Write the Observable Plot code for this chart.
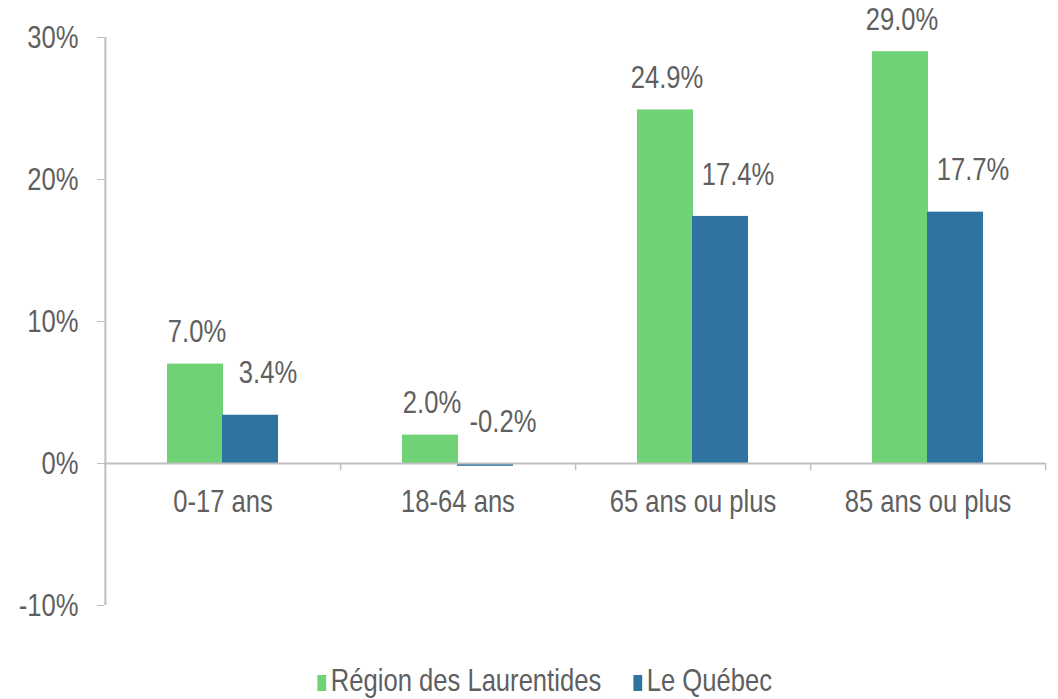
<!DOCTYPE html>
<html><head><meta charset="utf-8">
<script src="https://cdn.jsdelivr.net/npm/d3@7"></script>
<script src="https://cdn.jsdelivr.net/npm/@observablehq/plot@0.6"></script>
<style>
body{margin:0;background:#fff;font-family:"Liberation Sans",Arial,sans-serif;}
#legend{display:flex;justify-content:center;gap:40px;font-size:32px;color:#5f5f5f;margin-top:20px;padding-left:32px;transform:scaleX(0.8);transform-origin:543px 50%;line-height:40px}
#legend span.sw{display:inline-block;width:11px;height:16px;margin-right:6px;vertical-align:0px}
</style></head><body>
<div id="chart"></div>
<div id="legend"></div>
<script>
const categories = ["0-17 ans", "18-64 ans", "65 ans ou plus", "85 ans ou plus"];
const seriesNames = ["Région des Laurentides", "Le Québec"];
const laurentides = [7.0, 2.0, 24.9, 29.0];
const quebec = [3.4, -0.2, 17.4, 17.7];
const yTicks = [-10, 0, 10, 20, 30];
const colors = ["#70D276", "#2F74A0"];

const green = categories.map((c, i) => ({cat: c, v: laurentides[i]}));
const blue = categories.map((c, i) => ({cat: c, v: quebec[i]}));
const fmt = v => v.toFixed(1) + "%";
const FS = 32;
const SX = 0.8;
const TXT = "#5f5f5f";

const plot = Plot.plot({
  width: 1058, height: 640,
  marginLeft: 104, marginRight: 13, marginTop: 37, marginBottom: 35,
  style: {fontFamily: "Liberation Sans, Arial, sans-serif", fontSize: FS + "px", color: TXT, background: "#fff"},
  x: {domain: categories, padding: 0, axis: null},
  y: {domain: [-10, 30], axis: null},
  marks: [
    Plot.barY(green, {x: "cat", y: "v", fill: colors[0], insetLeft: 62, insetRight: 117}),
    Plot.barY(blue, {x: "cat", y: "v", fill: colors[1], insetLeft: 117, insetRight: 62}),
    Plot.ruleY([0], {stroke: "#BFBFBF", strokeWidth: 2}),
    Plot.ruleX(categories, {x: d => d, y1: 0, y2: -0.5, dx: 117.6, stroke: "#BFBFBF", strokeWidth: 1.5}),
    Plot.ruleX([categories[0]], {x: d => d, y1: -10, y2: 30, dx: -117.6, stroke: "#BFBFBF", strokeWidth: 2}),
    Plot.axisY(yTicks, {tickFormat: d => d + "%", tickSize: 7, tickPadding: 19, stroke: "#BFBFBF", fill: TXT, fontSize: FS, label: null}),
    Plot.text(green, {x: "cat", y: "v", text: d => fmt(d.v), dx: -26, dy: -32, fill: TXT, fontSize: FS}),
    Plot.text(blue, {x: "cat", y: d => Math.max(d.v, 0), text: d => fmt(d.v), dx: 45, dy: -42, fill: TXT, fontSize: FS}),
    Plot.text(categories, {x: d => d, y: () => 0, dy: 38, text: d => d, fill: TXT, fontSize: FS})
  ]
});
document.getElementById("chart").appendChild(plot);

// condense glyphs (narrow font look), scaling about each text's anchor point
plot.querySelectorAll("text").forEach(t => {
  const tr = t.getAttribute("transform") || "";
  t.setAttribute("transform", (tr + " scale(" + SX + ",1)").trim());
  const x = t.getAttribute("x");
  if (x !== null && !isNaN(+x)) t.setAttribute("x", +x / SX);
});

const lg = document.getElementById("legend");
seriesNames.forEach((n, i) => {
  const d = document.createElement("div");
  d.innerHTML = `<span class="sw" style="background:${colors[i]}"></span>${n}`;
  lg.appendChild(d);
});
</script>
</body></html>
